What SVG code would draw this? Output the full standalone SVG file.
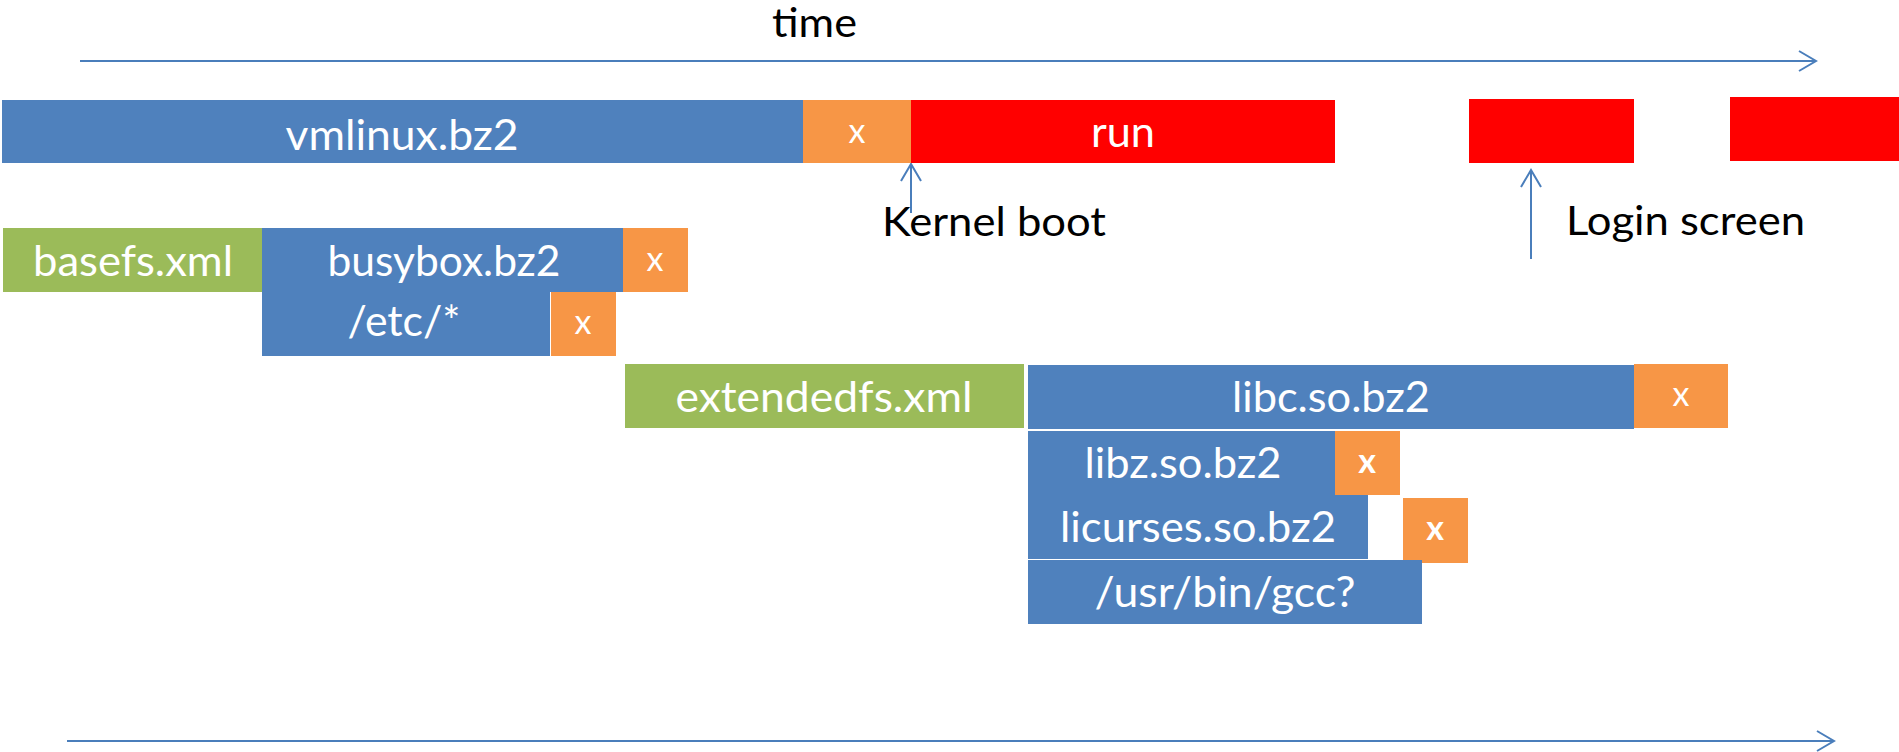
<svg xmlns="http://www.w3.org/2000/svg" width="1899" height="752" viewBox="0 0 1899 752">
  <style>
    .blue { fill: #4F81BD; }
    .orange { fill: #F79646; }
    .green { fill: #9BBB59; }
    .red { fill: #FF0000; }
    .lbl { font-family: Lato, "Liberation Sans", sans-serif; font-size: 42px; fill: #FFFFFF; text-anchor: middle; }
    .mark { font-family: Lato, "Liberation Sans", sans-serif; font-size: 34px; fill: #FFFFFF; text-anchor: middle; }
    .bold { font-weight: bold; }
    .note { font-family: Lato, "Liberation Sans", sans-serif; font-size: 41px; fill: #000000; }
    .axis { stroke: #4A7EBB; stroke-width: 2; fill: none; }
  </style>
  <defs>
    <marker id="chevron" markerUnits="userSpaceOnUse" viewBox="-20 -12 22 24" refX="0" refY="0" markerWidth="22" markerHeight="24" orient="auto">
      <path d="M -17 -10 L 0 0 L -17 10" fill="none" stroke="#4A7EBB" stroke-width="2"/>
    </marker>
  </defs>

  <rect width="1899" height="752" fill="#FFFFFF"/>

  <!-- connectors: time axes and event pointers -->
  <g id="connectors">
    <line class="axis" x1="80" y1="61" x2="1816" y2="61" marker-end="url(#chevron)"/>
    <line class="axis" x1="911" y1="213" x2="911" y2="164" marker-end="url(#chevron)"/>
    <line class="axis" x1="1531" y1="259" x2="1531" y2="170" marker-end="url(#chevron)"/>
    <line class="axis" stroke-width="3" x1="67" y1="741" x2="1834" y2="741" marker-end="url(#chevron)"/>
  </g>

  <g id="time-label">
    <text class="note" x="772" y="37" textLength="85" lengthAdjust="spacingAndGlyphs">time</text>
  </g>

  <!-- kernel row -->
  <g id="vmlinux">
    <rect class="blue" x="2" y="100" width="801" height="63"/>
    <text class="lbl" x="402" y="150" textLength="233" lengthAdjust="spacingAndGlyphs">vmlinux.bz2</text>
  </g>
  <g id="vmlinux-x">
    <rect class="orange" x="803" y="100" width="108" height="63"/>
    <text class="mark" x="857" y="143">x</text>
  </g>
  <g id="run">
    <rect class="red" x="911" y="100" width="424" height="63"/>
    <text class="lbl" x="1123" y="147" textLength="64" lengthAdjust="spacingAndGlyphs">run</text>
  </g>
  <g id="run-2">
    <rect class="red" x="1469" y="99" width="165" height="64"/>
  </g>
  <g id="run-3">
    <rect class="red" x="1730" y="97" width="169" height="64"/>
  </g>

  <g id="kernel-boot">
    <text class="note" x="882" y="236" textLength="224" lengthAdjust="spacingAndGlyphs">Kernel boot</text>
  </g>
  <g id="login-screen">
    <text class="note" x="1566" y="235" textLength="239" lengthAdjust="spacingAndGlyphs">Login screen</text>
  </g>

  <!-- base filesystem -->
  <g id="basefs">
    <rect class="green" x="3" y="228" width="259" height="64"/>
    <text class="lbl" x="133" y="276" textLength="200" lengthAdjust="spacingAndGlyphs">basefs.xml</text>
  </g>
  <g id="busybox">
    <rect class="blue" x="262" y="228" width="361" height="64"/>
    <text class="lbl" x="444" y="276" textLength="233" lengthAdjust="spacingAndGlyphs">busybox.bz2</text>
  </g>
  <g id="busybox-x">
    <rect class="orange" x="623" y="228" width="65" height="64"/>
    <text class="mark" x="655" y="271">x</text>
  </g>
  <g id="etc">
    <rect class="blue" x="262" y="292" width="288" height="64"/>
    <text class="lbl" x="404" y="336" textLength="113" lengthAdjust="spacingAndGlyphs">/etc/*</text>
  </g>
  <g id="etc-x">
    <rect class="orange" x="551" y="292" width="65" height="64"/>
    <text class="mark" x="583" y="334">x</text>
  </g>

  <!-- extended filesystem -->
  <g id="extendedfs">
    <rect class="green" x="625" y="364" width="399" height="64"/>
    <text class="lbl" x="824" y="412" textLength="297" lengthAdjust="spacingAndGlyphs">extendedfs.xml</text>
  </g>
  <g id="libc">
    <rect class="blue" x="1028" y="365" width="606" height="64"/>
    <text class="lbl" x="1331" y="412" textLength="198" lengthAdjust="spacingAndGlyphs">libc.so.bz2</text>
  </g>
  <g id="libc-x">
    <rect class="orange" x="1634" y="364" width="94" height="64"/>
    <text class="mark" x="1681" y="406">x</text>
  </g>
  <g id="libz">
    <rect class="blue" x="1028" y="431" width="307" height="64"/>
    <text class="lbl" x="1183" y="478" textLength="197" lengthAdjust="spacingAndGlyphs">libz.so.bz2</text>
  </g>
  <g id="libz-x">
    <rect class="orange" x="1335" y="431" width="65" height="64"/>
    <text class="mark bold" x="1367" y="473">x</text>
  </g>
  <g id="licurses">
    <rect class="blue" x="1028" y="495" width="340" height="64"/>
    <text class="lbl" x="1198" y="542" textLength="276" lengthAdjust="spacingAndGlyphs">licurses.so.bz2</text>
  </g>
  <g id="licurses-x">
    <rect class="orange" x="1403" y="498" width="65" height="65"/>
    <text class="mark bold" x="1435" y="540">x</text>
  </g>
  <g id="gcc">
    <rect class="blue" x="1028" y="560" width="394" height="64"/>
    <text class="lbl" x="1225" y="607" textLength="261" lengthAdjust="spacingAndGlyphs">/usr/bin/gcc?</text>
  </g>
</svg>
